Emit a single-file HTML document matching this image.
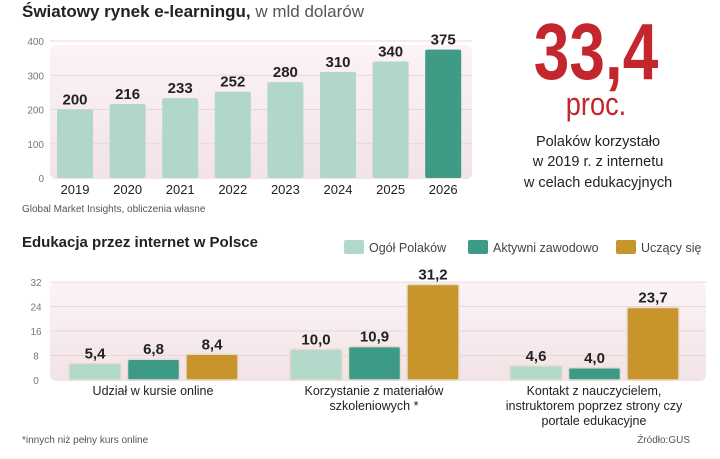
<!DOCTYPE html>
<html><head><meta charset="utf-8"><style>
body{margin:0;width:720px;height:459px;background:#fff;overflow:hidden;font-family:"Liberation Sans",sans-serif}
svg{display:block}
</style></head><body>
<svg width="720" height="459">
<defs>
<linearGradient id="pink" x1="0" y1="0" x2="0" y2="1"><stop offset="0" stop-color="#fbf3f4"/><stop offset="1" stop-color="#f2e3e6"/></linearGradient>
</defs>
<text x="22" y="17" font-size="17" font-weight="bold" fill="#222">Światowy rynek e-learningu,<tspan font-weight="normal" fill="#555"> w mld dolarów</tspan></text>
<rect x="50" y="45" width="422" height="134" rx="6" fill="url(#pink)"/>
<g id="topg"></g>
<text x="22" y="212" font-size="10" fill="#555">Global Market Insights, obliczenia własne</text>

<text transform="translate(596,79) scale(0.8,1)" font-size="80" font-weight="bold" fill="#c4262e" text-anchor="middle">33,4</text>
<text transform="translate(596,115) scale(0.85,1)" font-size="32" fill="#c4262e" text-anchor="middle">proc.</text>
<g font-size="14.5" fill="#222" text-anchor="middle">
<text x="598" y="146">Polaków korzystało</text>
<text x="598" y="166">w 2019 r. z internetu</text>
<text x="598" y="187">w celach edukacyjnych</text>
</g>

<text x="22" y="247" font-size="15" font-weight="bold" fill="#222">Edukacja przez internet w Polsce</text>
<g font-size="12.5" fill="#444">
<rect x="344" y="240" width="20" height="14" rx="2" fill="#b2d8c9"/><text x="369" y="252">Ogół Polaków</text>
<rect x="468" y="240" width="20" height="14" rx="2" fill="#3c9a86"/><text x="493" y="252">Aktywni zawodowo</text>
<rect x="616" y="240" width="20" height="14" rx="2" fill="#c8952c"/><text x="641" y="252">Uczący się</text>
</g>
<rect x="50" y="283" width="656" height="98" rx="6" fill="url(#pink)"/>
<g id="botg"></g>
<text x="22" y="443" font-size="10" fill="#555">*innych niż pełny kurs online</text>
<text x="690" y="443" font-size="10" fill="#555" text-anchor="end">Źródło:GUS</text>
</svg>
<script>
const years=["2019","2020","2021","2022","2023","2024","2025","2026"];
const market=[200,216,233,252,280,310,340,375];
const topTicks=[0,100,200,300,400];
const groups=[["Udział w  kursie online"],["Korzystanie z materiałów","szkoleniowych *"],["Kontakt z nauczycielem,","instruktorem poprzez strony czy","portale edukacyjne"]];
const ogol=[5.4,10.0,4.6];
const aktywni=[6.8,10.9,4.0];
const uczacy=[8.4,31.2,23.7];
const botTicks=[0,8,16,24,32];
const NS="http://www.w3.org/2000/svg";
function mk(p,t,a,txt){const e=document.createElementNS(NS,t);for(const k in a)e.setAttribute(k,a[k]);if(txt!=null)e.textContent=txt;p.appendChild(e);return e;}
const tg=document.getElementById('topg');
const ty=v=>178-v*0.3425, tx=i=>75+i*52.6;
topTicks.forEach(v=>{
 if(v>0){const l=mk(tg,'line',{x1:50,x2:472,y1:ty(v),y2:ty(v),stroke:'#ead6da','stroke-width':1});
 
 }
 const t=mk(tg,'text',{x:44,y:ty(v)+4,'font-size':10,fill:'#777','text-anchor':'end'},v);
 
 
});
market.forEach((v,i)=>{
 const r=mk(tg,'rect',{x:tx(i)-18,y:ty(v),width:36,height:ty(0)-ty(v),rx:2,fill:i==7?'#3f9a86':'#b1d7c8'});
 
 
 const l=mk(tg,'text',{x:tx(i),y:ty(v)-5,'font-size':15,'font-weight':'bold',fill:'#222','text-anchor':'middle'},v);
 
 
 const y=mk(tg,'text',{x:tx(i),y:194,'font-size':13,fill:'#222','text-anchor':'middle'},years[i]);
 
 
});
const bg=document.getElementById('botg');
const by=v=>380-v*3.06;
const gx=[69,290,510], cols=['#b2d8c9','#3c9a86','#c8952c'], series=[ogol,aktywni,uczacy], sn=['ogol','aktywni','uczacy'];
botTicks.forEach(v=>{
 if(v>0){const l=mk(bg,'line',{x1:50,x2:706,y1:by(v),y2:by(v),stroke:'#ead6da','stroke-width':1});
 
 }
 const t=mk(bg,'text',{x:36,y:by(v)+4,'font-size':10,fill:'#777','text-anchor':'middle'},v);
 
 
});
groups.forEach((g,gi)=>{
 series.forEach((s,si)=>{
  const x=gx[gi]+si*58.5, v=s[gi];
  const r=mk(bg,'rect',{x:x,y:by(v),width:52,height:by(0)-by(v),rx:2,fill:cols[si],stroke:'#e8dccf','stroke-width':1.5});
  
  
  const l=mk(bg,'text',{x:x+26,y:by(v)-5,'font-size':15,'font-weight':'bold',fill:'#222','text-anchor':'middle'},v.toFixed(1).replace('.',','));
  
  
 });
 g.forEach((line,li)=>{
  const t=mk(bg,'text',{x:gx[gi]+84,y:395+li*15,'font-size':12.5,fill:'#222','text-anchor':'middle'},line);
  
  
 });
});
</script>
</body></html>
